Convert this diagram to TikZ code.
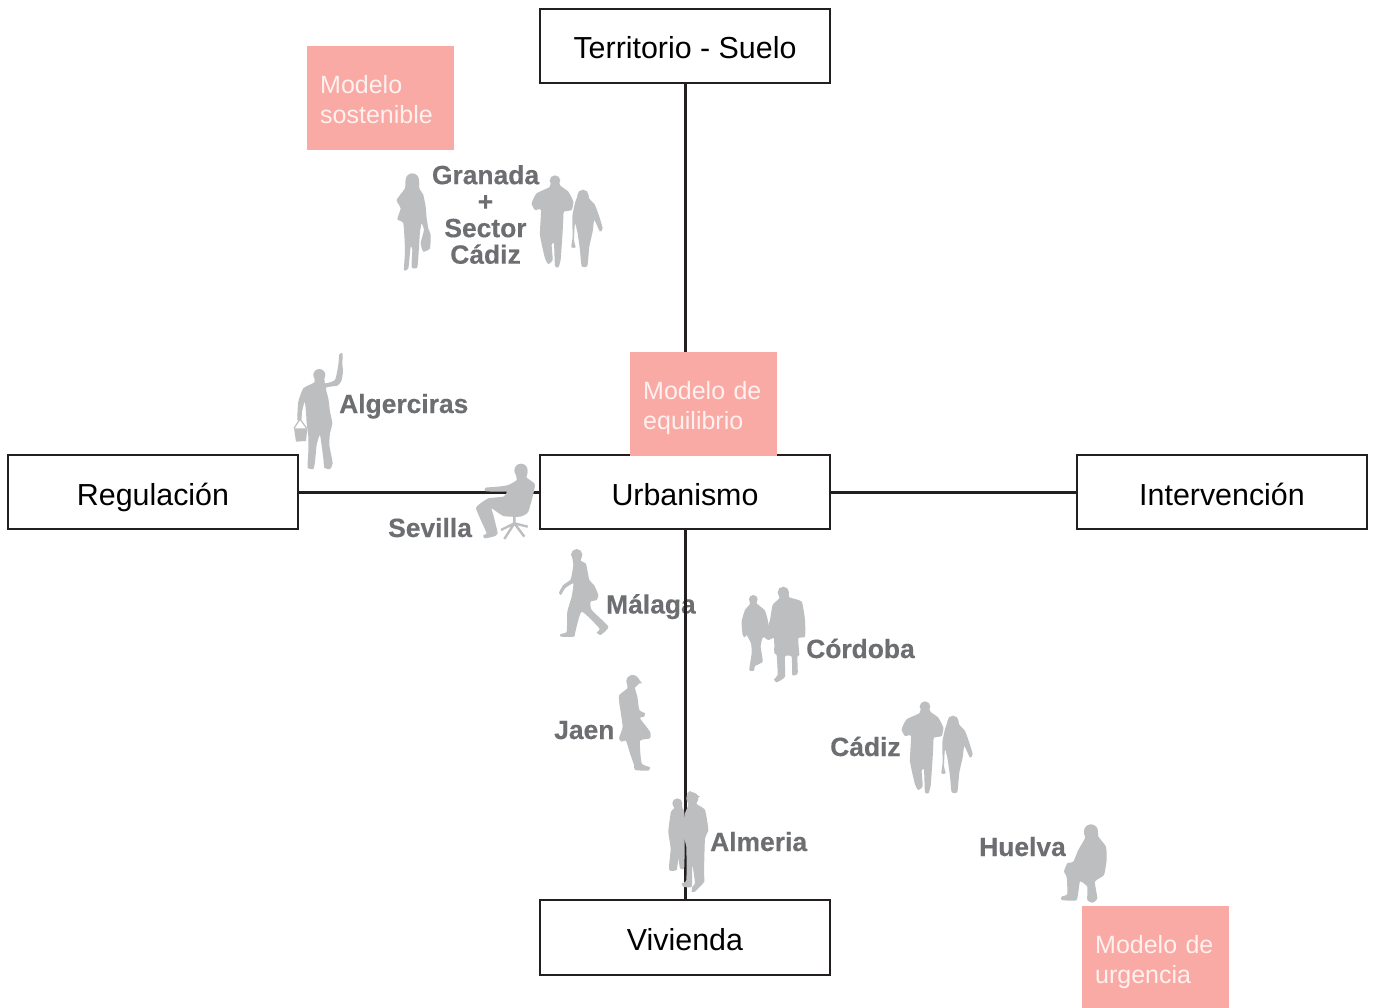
\documentclass[tikz,border=0pt]{standalone}
\usepackage{fontspec}
\setmainfont{Liberation Sans}
\newfontfamily\placefont[FakeBold=0.35]{Liberation Sans Bold}
\definecolor{inkline}{HTML}{231F20}
\definecolor{silh}{HTML}{BCBEC0}
\definecolor{labelgrey}{HTML}{6D6E71}
\definecolor{salmon}{HTML}{F9AAA4}
\definecolor{softwhite}{HTML}{FFF1EF}
\newcommand{\lastdepth}{\rule[-6pt]{0pt}{6pt}}
\tikzset{
 axisbox/.style={draw=inkline,line width=2.6pt,fill=white,minimum width=290pt,minimum height=74pt,inner sep=0pt,outer sep=0pt,text height=29pt,text depth=3pt,text=black,font=\fontsize{30.4}{36}\selectfont},
 axisline/.style={draw=inkline,line width=3pt},
 modelbox/.style={fill=salmon,minimum width=147pt,minimum height=104pt,inner sep=0pt,anchor=north west,text=softwhite,align=left,text width=121pt,font=\fontsize{25}{30.5}\selectfont},
 place/.style={anchor=base west,inner sep=0pt,text=labelgrey,font=\fontsize{26.4}{26.5}\selectfont\placefont},
 sil/.style={fill=silh,draw=none},
 zoomed/.style={x=0.3333pt,y=-0.3333pt},
}
\newcommand{\blob}[1]{\fill[sil] plot[smooth cycle,tension=0.3] coordinates {#1};}
\newcommand{\headat}[3]{\fill[sil] (#1,#2) circle [radius=#3];}
\newcommand{\couple}{%
 \headat{825}{62}{16}
 \blob{(814,66)(836,66)(842,78)(865,95)(880,125)(875,150)(852,155)(850,175)(848,215)(842,300)(835,322)(825,318)(822,250)(815,255)(818,300)(805,312)(795,295)(780,225)(783,150)(765,150)(755,130)(770,100)(808,82)}
 \headat{909}{106}{17}
 \blob{(897,100)(922,100)(928,116)(945,135)(958,170)(968,205)(960,215)(943,180)(938,215)(928,260)(922,318)(905,318)(900,270)(893,220)(885,190)(882,240)(887,262)(874,262)(878,230)(877,170)(885,130)}}
\begin{document}
\begin{tikzpicture}[x=1pt,y=-1pt]
\useasboundingbox (0,0) rectangle (1373,1008);
\fill[white] (0,0) rectangle (1373,1008);
% text crossed by the axis
\node[place] (malaga) at (606,613.5) {Málaga};
% boxes
\node[axisbox] (territorio) at (685,46) {Territorio - Suelo};
\node[axisbox] (regulacion) at (153,492) {Regulación};
\node[axisbox] (urbanismo) at (685,492) {Urbanismo};
\node[axisbox] (intervencion) at (1222,492) {Intervención};
\node[axisbox,minimum height=75pt] (vivienda) at (685,937.5) {Vivienda};
% connectors
\draw[axisline] (territorio) -- (urbanismo);
\draw[axisline] (regulacion) -- (urbanismo);
\draw[axisline] (urbanismo) -- (intervencion);
\draw[axisline] (urbanismo) -- (vivienda);
% model boxes
\node[modelbox] (sostenible) at (307,46) {\rule{0pt}{27pt}Modelo\\sostenible\lastdepth};
\node[modelbox] (equilibrio) at (630,352) {\rule{0pt}{27pt}Modelo de\\equilibrio\lastdepth};
\node[modelbox] (urgencia) at (1082,906) {\rule{0pt}{27pt}Modelo de\\urgencia\lastdepth};
% labels
\node[place,align=center,anchor=center] (granada) at (485.5,214.5) {Granada\\+\\Sector\\Cádiz};
\node[place] (algeciras) at (339,413) {Algerciras};
\node[place] (sevilla) at (388,537) {Sevilla};
\node[place] (jaen) at (554,739) {Jaen};
\node[place] (cordoba) at (806,658) {Córdoba};
\node[place] (cadiz) at (830,756) {Cádiz};
\node[place] (almeria) at (710,851) {Almeria};
\node[place] (huelva) at (979,856) {Huelva};
% Granada figures
\begin{scope}[shift={(280,160)},zoomed]
 \headat{397}{60}{20}
 \blob{(378,60)(416,60)(418,85)(430,105)(437,140)(440,175)(445,205)(452,225)(450,265)(430,275)(422,250)(432,210)(425,190)(420,215)(417,260)(412,322)(395,322)(397,270)(392,260)(385,325)(372,330)(375,270)(370,190)(352,178)(362,145)(350,120)(375,85)}
 \couple
\end{scope}
% Cadiz figures
\begin{scope}[shift={(650,686)},zoomed]
 \couple
\end{scope}
% Algeciras figure
\begin{scope}[shift={(280,345)},zoomed]
 \headat{118}{90}{18}
 \blob{(175,60)(178,28)(188,25)(187,55)(189,80)(184,108)(172,122)(138,128)(145,160)(150,200)(157,235)(150,265)(148,300)(158,355)(150,372)(133,368)(130,340)(120,270)(110,300)(105,350)(100,372)(83,368)(85,320)(85,275)(80,235)(78,200)(74,170)(66,200)(64,225)(52,225)(55,170)(70,130)(103,112)(104,92)(132,92)(135,115)(165,105)}
 \fill[sil] (42,250) -- (82,250) -- (78,288) -- (48,290) -- cycle;
 \draw[silh,line width=1.2pt] (42,250) -- (60,222) -- (80,250);
\end{scope}
% Sevilla figure
\begin{scope}[shift={(465,455)},zoomed]
 \headat{168}{46}{20}
 \blob{(152,50)(187,50)(185,68)(210,90)(190,170)(165,185)(115,183)(80,160)(85,180)(98,235)(85,245)(58,250)(55,240)(65,235)(45,190)(33,160)(40,150)(70,130)(115,125)(125,110)(85,110)(60,108)(62,98)(100,95)(130,90)(155,75)}
 \draw[silh,line width=2.4pt] (148,185) -- (148,205) (148,205) -- (118,252) (148,205) -- (178,245) (148,205) -- (108,225) (148,205) -- (188,215);
\end{scope}
% Malaga figure and Jaen figure and Cordoba figures
\begin{scope}[shift={(550,540)},zoomed]
 \headat{80}{44}{17}
 \blob{(67,45)(96,45)(92,62)(108,72)(118,120)(132,135)(145,165)(140,180)(122,185)(125,210)(175,260)(152,285)(140,278)(148,265)(95,215)(75,280)(72,290)(32,290)(32,282)(50,275)(52,215)(65,170)(70,130)(45,145)(33,165)(27,158)(40,135)(62,118)(70,75)}
 \headat{248}{424}{19}
 \fill[sil] (245,408) -- (265,415) -- (276,430) -- (250,432) -- cycle;
 \blob{(232,425)(258,425)(255,445)(262,470)(268,510)(285,520)(282,530)(270,535)(300,575)(300,595)(270,603)(275,670)(300,682)(295,692)(255,690)(252,675)(240,640)(228,602)(215,605)(207,595)(218,560)(208,490)(208,465)(232,445)}
 \headat{610}{178}{13}
 \blob{(599,178)(621,178)(620,190)(645,212)(655,250)(652,290)(642,292)(637,295)(632,320)(638,365)(615,378)(612,392)(598,390)(605,340)(603,310)(590,285)(585,292)(578,285)(575,245)(585,210)(600,192)}
 \headat{700}{157}{17}
 \blob{(685,157)(715,157)(718,172)(755,185)(765,240)(765,290)(745,295)(748,345)(742,350)(743,400)(727,405)(725,350)(705,350)(705,410)(680,427)(672,418)(683,405)(680,345)(673,340)(672,295)(655,300)(643,290)(660,240)(668,195)(688,175)}
\end{scope}
% Almeria figures
\begin{scope}[shift={(655,780)},zoomed]
 \headat{67}{70}{15}
 \blob{(54,72)(80,72)(82,85)(88,100)(88,260)(75,265)(70,235)(65,270)(45,272)(42,260)(47,205)(40,155)(48,95)(58,85)}
 \headat{112}{55}{18}
 \fill[sil] (96,40) -- (105,33) -- (120,42) -- (135,50) -- (112,60) -- cycle;
 \blob{(97,55)(127,55)(125,72)(150,90)(160,150)(150,175)(147,280)(148,305)(120,335)(110,335)(112,320)(120,310)(112,255)(110,320)(85,320)(80,310)(94,300)(94,200)(87,175)(85,130)(90,100)(100,75)}
\end{scope}
% Huelva figure
\begin{scope}[shift={(650,690)},zoomed]
 \headat{1323}{424}{21}
 \blob{(1303,425)(1343,425)(1345,440)(1368,470)(1370,510)(1362,555)(1335,575)(1342,625)(1328,638)(1312,630)(1312,590)(1290,575)(1280,630)(1235,630)(1235,620)(1252,612)(1250,560)(1242,545)(1252,520)(1270,515)(1285,480)(1305,445)}
\end{scope}
\end{tikzpicture}
\end{document}
